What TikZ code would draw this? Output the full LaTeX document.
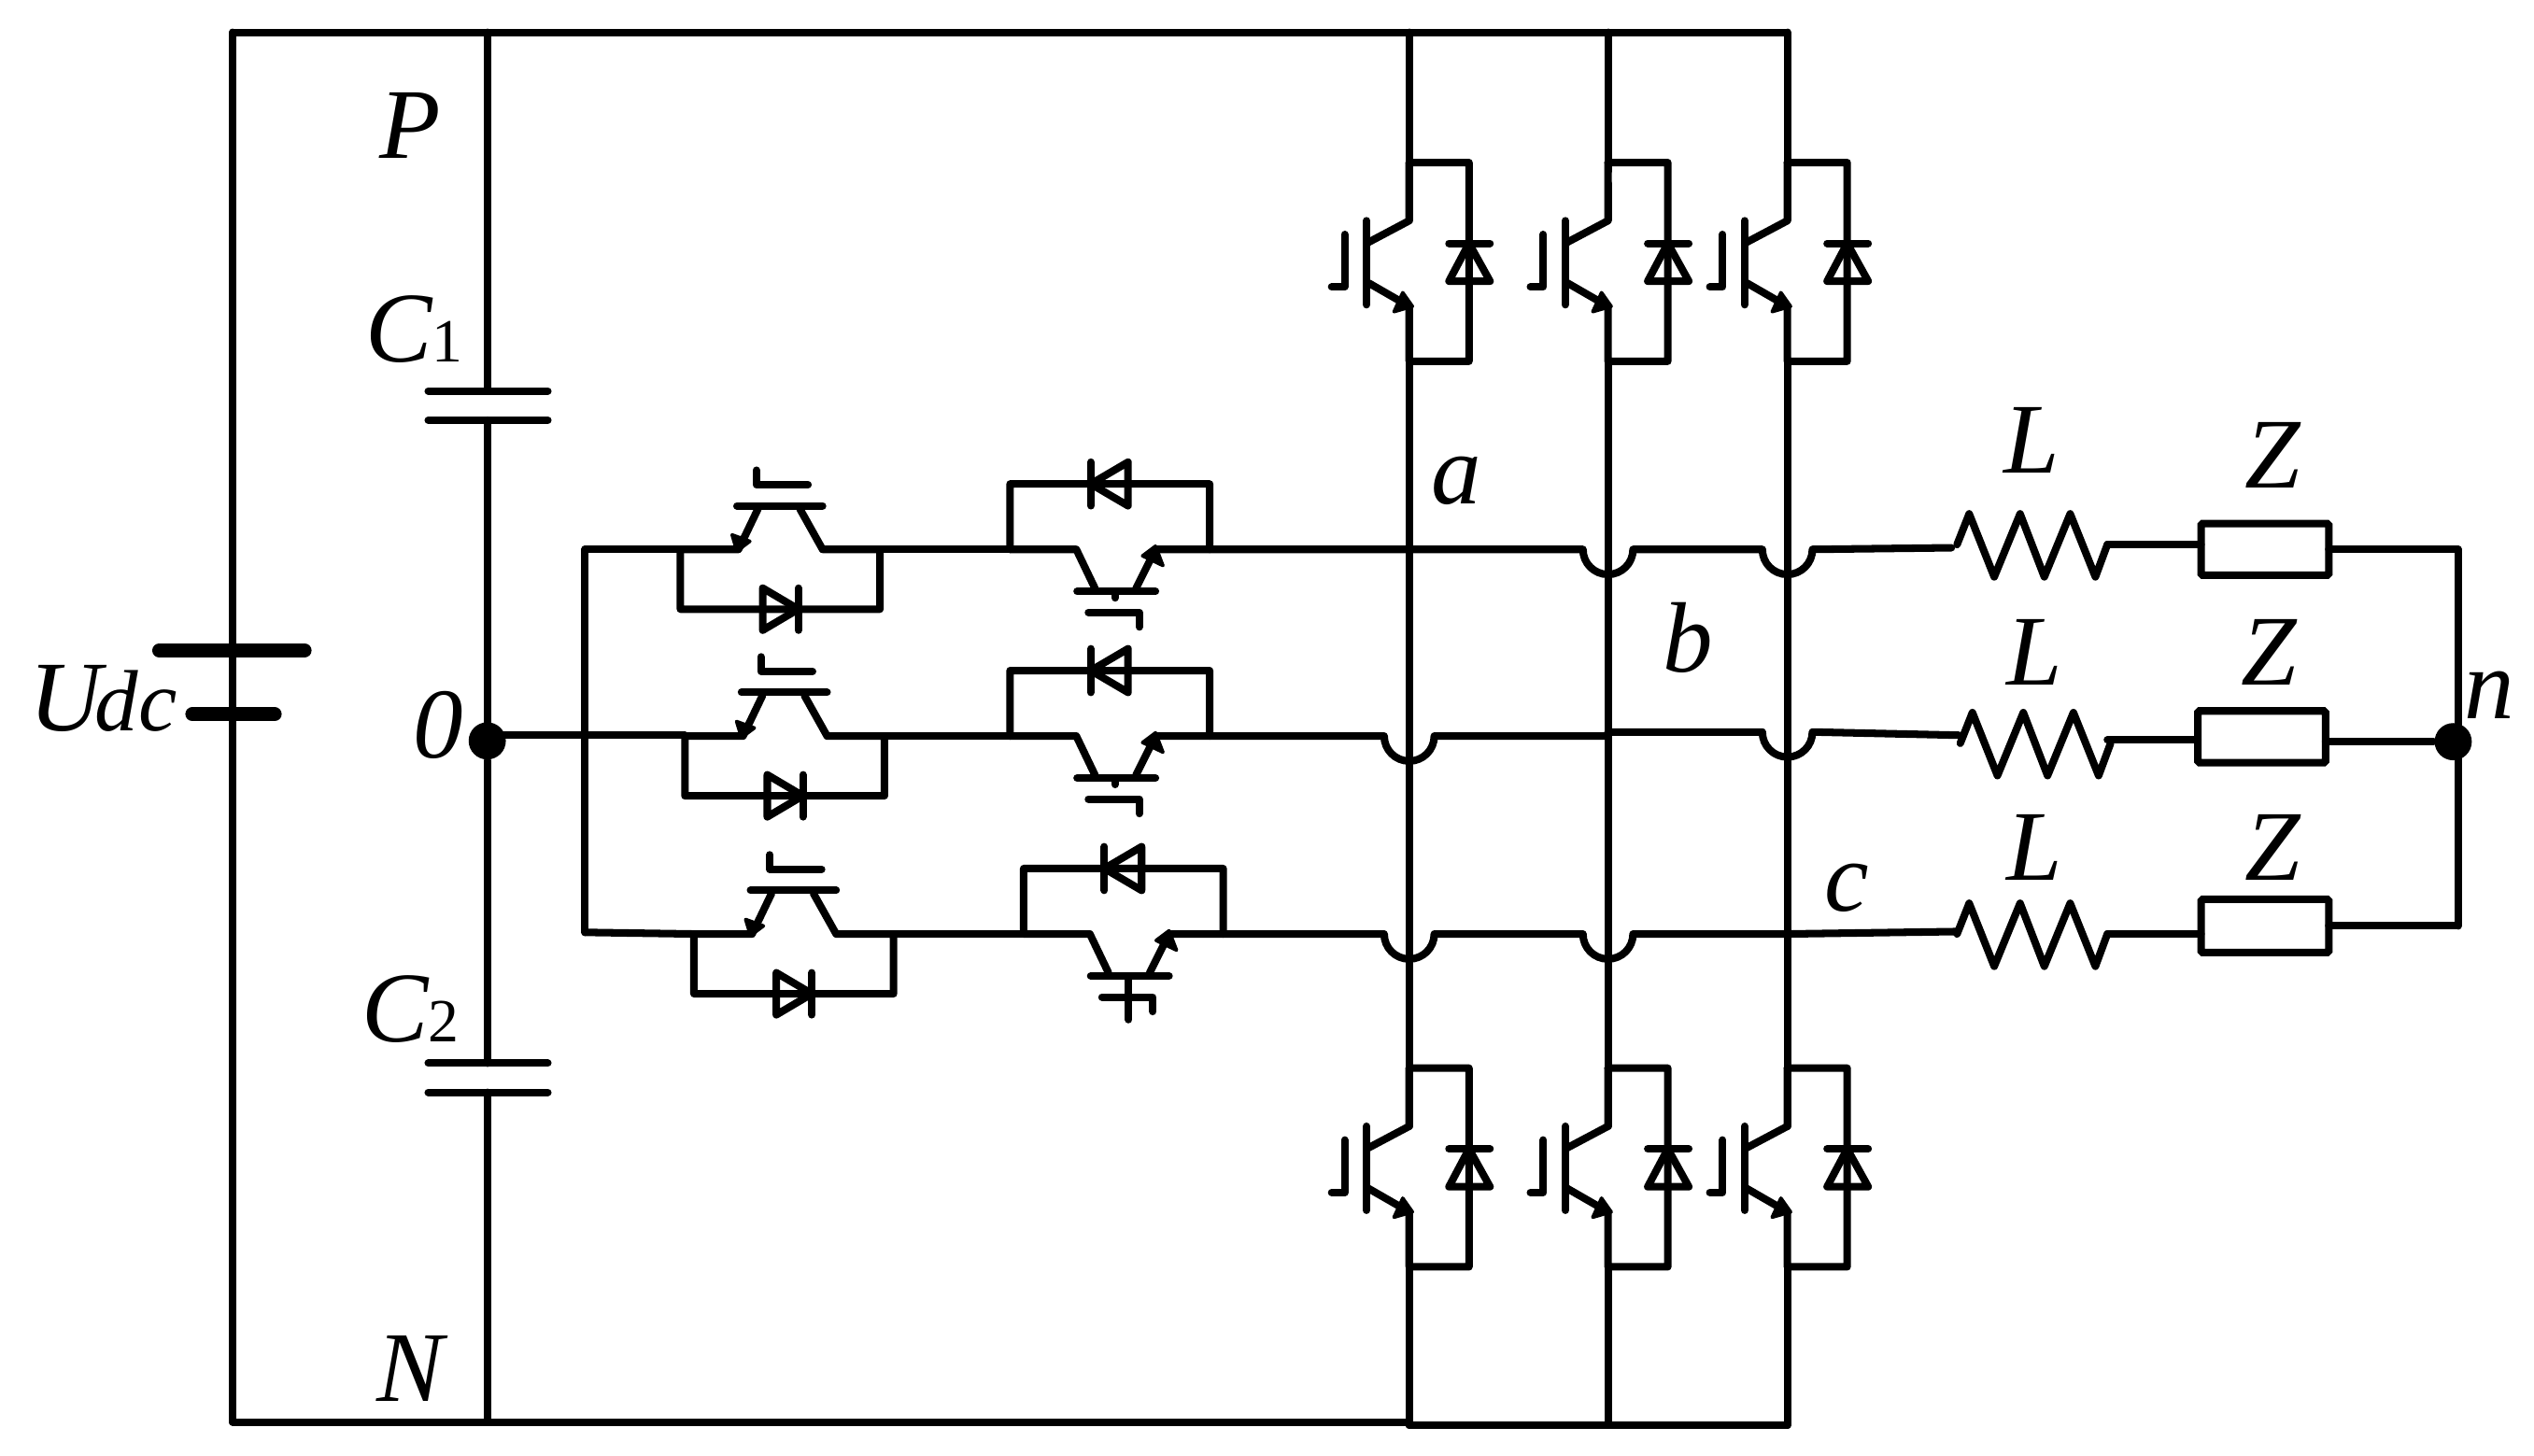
\documentclass[tikz,border=0pt]{standalone}
\usepackage{fontspec}
\setmainfont{Liberation Serif}
\newcommand\fsbig{\fontsize{17.6}{20}\selectfont\itshape}
\newcommand\fsmid{\fontsize{15.3}{18}\selectfont\itshape}
\newcommand\fssub{\fontsize{10.8}{12}\selectfont\upshape}
\tikzset{
  wire/.style={line width=1.32pt,line cap=round,line join=round},
  heavy/.style={line width=2.45pt,line cap=round},
  lab/.style={anchor=base west,inner sep=0pt,outer sep=0pt,font=\fsbig},
  zbox/.style={draw,line width=1.32pt,rounded corners=0.3pt,inner sep=0pt,outer sep=0pt,minimum width=0.79cm},
  junction/.style={circle,fill=black,inner sep=0pt,minimum size=0.23cm},
  blob/.style={fill=black,draw=black,line width=0.6pt,line join=round},
  igbtcol/.pic={
    \draw[wire] (0,0) -- (37,0) -- (37,123) -- (0,123) -- (0,89) -- (-25,74.6);
    \draw[wire] (0,0) -- (0,36) -- (-26.4,50);
    \draw[wire] (-26.4,36) -- (-26.4,88);
    \draw[wire] (-40,44.5) -- (-40,77) -- (-48,77);
    \draw[wire] (24.6,50) -- (50,50);
    \draw[wire] (37,50) -- (24.6,73.4) -- (50,73.4) -- cycle;
    \filldraw[blob] (-4,80.5) -- (2,89) -- (-9.4,92.3) -- cycle;
  },
  igbtleft/.pic={
    \draw[wire] (421,0) -- (421,37) -- (544.5,37) -- (544.5,0) -- (509,0) -- (495,-25);
    \draw[wire] (421,0) -- (457,0) -- (469,-25);
    \draw[wire] (456,-27) -- (509,-27);
    \draw[wire] (468,-49) -- (468,-40) -- (500,-40);
    \draw[wire] (472,24) -- (472,50) -- (494,37) -- cycle;
    \draw[wire] (494,24) -- (494,50);
    \filldraw[blob] (453,-9) -- (464,-5) -- (456,1) -- cycle;
  },
  igbtright/.pic={
    \draw[wire] (625,0) -- (625,-40.5) -- (748.5,-40.5) -- (748.5,0) -- (715,0) -- (703,24);
    \draw[wire] (625,0) -- (666,0) -- (677.5,24);
    \draw[wire] (666.5,26) -- (715,26);
    \draw[wire] (690,26) -- (690,30);
    \draw[wire] (673.5,39) -- (705,39) -- (705,48);
    \draw[wire] (698,-54) -- (698,-27) -- (675,-40.5) -- cycle;
    \draw[wire] (675,-54) -- (675,-27);
    \filldraw[blob] (707,4) -- (715,-2) -- (719.6,10) -- cycle;
  },
  zigzag/.pic={
    \draw[wire] (0,0) -- (7.5,-19) -- (23,20) -- (39,-19) -- (54,20) -- (70,-19) -- (85.6,20) -- (93,0);
  }
}
\begin{document}
\begin{tikzpicture}[x=0.01cm,y=-0.01cm]
\useasboundingbox (0,0) rectangle (1568,901);

% named junctions
\coordinate (tl) at (144,20);
\coordinate (tr) at (1106,20);
\coordinate (bl) at (144,880);
\coordinate (capT) at (301.5,20);
\coordinate (capB) at (301.5,880);
\coordinate (ca) at (872,20);
\coordinate (cb) at (995,20);
\coordinate (cc) at (1106,20);
\coordinate (da) at (872,882);
\coordinate (db) at (995,882);
\coordinate (dc) at (1106,882);
\coordinate (busT) at (362,340);
\coordinate (busB) at (362,577);

% junction dots
\node[junction] (zero) at (301.5,458.5) {};
\node[junction] (nn) at (1518,459) {};

% DC source and frame
\draw[wire] (bl) -- (tl) -- (tr);
\draw[wire] (bl) -- (872,880);
\draw[wire] (da) -- (dc);
\draw[wire] (tl) -- (144,402);
\draw[wire] (144,442) -- (bl);
\draw[heavy] (98.5,402.5) -- (188.5,402.5);
\draw[heavy] (119,442) -- (170,442);

% capacitors
\draw[wire] (capT) -- (301.5,242);
\draw[wire] (301.5,260) -- (zero);
\draw[wire] (zero) -- (301.5,658);
\draw[wire] (301.5,676) -- (capB);
\draw[wire] (265,242) -- (339,242);
\draw[wire] (265,260) -- (339,260);
\draw[wire] (265,658) -- (339,658);
\draw[wire] (265,676) -- (339,676);

% neutral bus
\draw[wire] (busT) -- (busB);

% clamping switches
\pic at (0,340) {igbtleft};
\pic at (2.8,455.5) {igbtleft};
\pic at (8.4,578) {igbtleft};
\pic at (0,340) {igbtright};
\pic at (0,455.5) {igbtright};
\pic at (8.4,578) {igbtright};
\draw[wire] (698.4,606) -- (698.4,631);

% bridge legs
\draw[wire] (ca) -- (872,106); \draw[wire] (872,113.5) -- (872,136);
\draw[wire] (cb) -- (995,106); \draw[wire] (995,113.5) -- (995,136);
\draw[wire] (cc) -- (1106,136);
\foreach \cx in {872,995,1106}{
  \pic at (\cx,100.6) {igbtcol};
  \pic at (\cx,661) {igbtcol};
  \draw[wire] (\cx,223) -- (\cx,697);
  \draw[wire] (\cx,784) -- (\cx,882);
}

% phase lines
\draw[wire] (busT) -- (421,340);
\draw[wire] (544.5,340) -- (625,340);
\draw[wire] (748.5,340) -- (979.5,340) arc[start angle=180,end angle=0,radius=15.5] -- (1090.5,340) arc[start angle=180,end angle=0,radius=15.5] -- (1207.5,339);

\draw[wire] (zero) -- (301.5,455) -- (423.8,455);
\draw[wire] (547.3,455.5) -- (625,455.5);
\draw[wire] (748.5,455.5) -- (856.5,455.5) arc[start angle=180,end angle=0,radius=15.5] -- (995,455.5) -- (995,453) -- (1090.5,453) arc[start angle=180,end angle=0,radius=15.5] -- (1212,455);

\draw[wire] (busB) -- (429.4,578);
\draw[wire] (552.9,578) -- (633.4,578);
\draw[wire] (756.9,578) -- (856.5,578) arc[start angle=180,end angle=0,radius=15.5] -- (979.5,578) arc[start angle=180,end angle=0,radius=15.5] -- (1106,578) -- (1211,576.5);

% loads
\pic at (1211,337) {zigzag};
\pic at (1213,460) {zigzag};
\pic at (1211,578) {zigzag};
\node[zbox,minimum height=0.32cm] (Za) at (1401.5,340) {};
\node[zbox,minimum height=0.32cm] (Zb) at (1399.5,456) {};
\node[zbox,minimum height=0.33cm] (Zc) at (1401.5,573) {};
\draw[wire] (1304,337) -- (Za.west |- 1304,337);
\draw[wire] (1304,458) -- (Zb.west |- 1304,458);
\draw[wire] (1304,578) -- (Zc.west |- 1304,578);
\draw[wire] (Za.east) -- (1521,340);
\draw[wire] (Zb.east |- nn) -- (nn);
\draw[wire] (Zc.east) -- (1521,573);
\draw[wire] (1521,340) -- (1521,573);

% labels
\node[lab] (tP) at (235,98) {P};
\node[lab] (tN) at (233,867) {N};
\node[lab] (tC1) at (226,224) {C{\fssub 1}};
\node[lab] (tC2) at (224,645) {C{\fssub 2}};
\node[lab] (tU) at (18,452) {U\kern-1.1pt{\fsmid dc}};
\node[lab] (t0) at (256,469) {0};
\node[lab] (ta) at (886,312) {a};
\node[lab] (tb) at (1029,416) {b};
\node[lab] (tc) at (1129,564) {c};
\node[lab] (tn) at (1525,444.5) {n};
\node[lab] (tLa) at (1240,293) {L};
\node[lab] (tLb) at (1242,424) {L};
\node[lab] (tLc) at (1242,545) {L};
\node[lab] (tZa) at (1389,302) {Z};
\node[lab] (tZb) at (1387,424) {Z};
\node[lab] (tZc) at (1389,545) {Z};
\end{tikzpicture}
\end{document}
